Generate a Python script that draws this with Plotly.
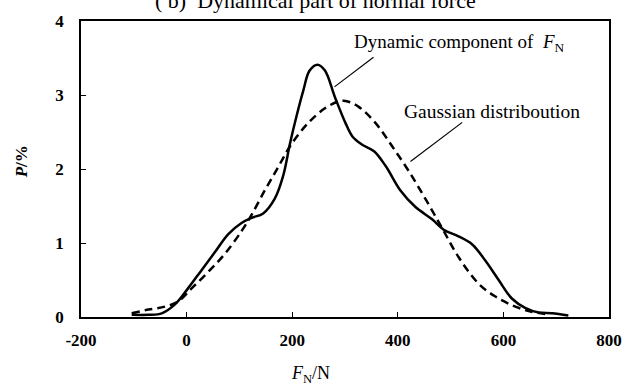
import plotly.graph_objects as go

# Dynamic component of F_N (solid)
dyn_x = [-104, -72, -47, -22, 3, 28, 53, 79, 104, 123, 145, 167, 183, 196, 208, 221, 233, 248,
         262, 281, 301, 314, 332, 355, 377, 405, 433, 465, 487, 515, 541, 566, 591, 616, 642,
         667, 692, 723]
dyn_y = [0.03, 0.03, 0.05, 0.17, 0.39, 0.63, 0.87, 1.12, 1.27, 1.34, 1.40, 1.60, 1.91, 2.35,
         2.71, 3.06, 3.33, 3.41, 3.33, 2.97, 2.62, 2.44, 2.33, 2.24, 2.04, 1.71, 1.49, 1.32,
         1.18, 1.09, 0.98, 0.76, 0.50, 0.25, 0.12, 0.06, 0.05, 0.02]

# Gaussian distribution (dashed)
gau_x = [-104, -72, -41, -16, 10, 41, 72, 104, 123, 148, 173, 198, 230, 262, 287, 301, 326,
         358, 389, 420, 452, 484, 515, 553, 584, 616, 648, 679]
gau_y = [0.05, 0.10, 0.14, 0.21, 0.39, 0.61, 0.85, 1.16, 1.38, 1.71, 2.02, 2.33, 2.62, 2.82,
         2.91, 2.92, 2.84, 2.62, 2.31, 1.98, 1.60, 1.20, 0.81, 0.45, 0.28, 0.16, 0.08, 0.04]

x_ticks = [-200, 0, 200, 400, 600, 800]
y_ticks = [0, 1, 2, 3, 4]

SERIF = "Liberation Serif"

fig = go.Figure()
fig.add_trace(go.Scatter(x=gau_x, y=gau_y, mode="lines",
                         line=dict(color="black", width=2.5, dash="8px,5px", shape="spline"),
                         showlegend=False))
fig.add_trace(go.Scatter(x=dyn_x, y=dyn_y, mode="lines",
                         line=dict(color="black", width=2.5, shape="spline"),
                         showlegend=False))

axis_common = dict(showgrid=False, zeroline=False, showline=True, linecolor="black",
                   linewidth=1.5, mirror=True, ticks="inside", ticklen=5, tickwidth=1,
                   tickcolor="black",
                   tickfont=dict(family=SERIF, size=17, color="black", weight="bold"))

fig.update_xaxes(range=[-200, 800], tickvals=x_ticks, ticktext=[str(v) for v in x_ticks],
                 ticklabelstandoff=7, **axis_common)
fig.update_yaxes(range=[0, 4], tickvals=y_ticks, ticktext=[str(v) for v in y_ticks],
                 ticklabelstandoff=12, **axis_common)

# Leader lines
fig.add_trace(go.Scatter(x=[354, 280], y=[3.51, 3.11], mode="lines",
                         line=dict(color="black", width=1.2), showlegend=False))
fig.add_trace(go.Scatter(x=[522, 424], y=[2.63, 2.10], mode="lines",
                         line=dict(color="black", width=1.2), showlegend=False))

fig.add_annotation(x=516, y=3.70, xref="x", yref="y",
                   text="Dynamic component of  <i>F</i><sub>N</sub>",
                   showarrow=False, font=dict(family=SERIF, size=19, color="black"))
fig.add_annotation(x=579, y=2.78, xref="x", yref="y",
                   text="Gaussian distriboution", showarrow=False,
                   font=dict(family=SERIF, size=19.5, color="black"))

# Title (partly cut off at the top)
fig.add_annotation(x=(315 - 81) / 528, y=1.0, xref="paper", yref="paper",
                   yshift=16 + 5, yanchor="middle",
                   text="( b)  Dynamical part of normal force", showarrow=False,
                   font=dict(family=SERIF, size=22, color="black"))

# Axis titles
fig.add_annotation(x=(310 - 81) / 528, y=0, xref="paper", yref="paper",
                   yshift=-(375 - 317.5), yanchor="middle",
                   text="<i>F</i><sub>N</sub>/N", showarrow=False,
                   font=dict(family=SERIF, size=18, color="black"))
fig.add_annotation(x=0, y=(317.5 - 160) / 301.5, xref="paper", yref="paper",
                   xshift=-(81 - 21), xanchor="center", textangle=-90,
                   text="<i>P</i>/%", showarrow=False,
                   font=dict(family=SERIF, size=17, color="black", weight="bold"))

fig.update_layout(width=634, height=387, margin=dict(l=81, r=25, t=16, b=70),
                  paper_bgcolor="white", plot_bgcolor="white")

fig.write_html("out.html")
